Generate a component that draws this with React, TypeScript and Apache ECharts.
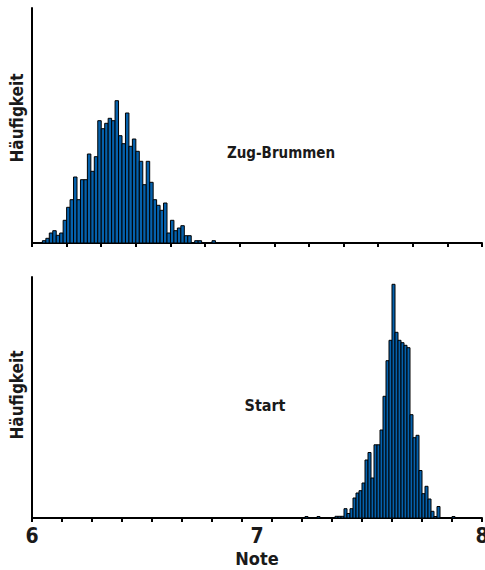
import React, { useEffect, useRef } from "react";
import * as echarts from "echarts";

// Axis range of the note scale
const X_MIN = 6;
const X_MAX = 8;

// Top panel: "Zug-Brummen" — 130 bins over 6..8, first non-empty bin index 3
const topBinCount = 130;
const topFirstBin = 3;
const topCounts = [
  2.3, 4.7, 10, 12.3, 7.7, 10, 22.7, 35.7, 43.3, 66, 43.3, 63.3, 63.3, 89, 71.7,
  86.3, 122.3, 114.3, 119.7, 124.7, 122.3, 142.3, 107.3, 99.3, 130, 96.7, 104,
  91.7, 81.7, 58.3, 81.7, 60.7, 43.3, 37.7, 32.7, 40, 10, 22.7, 12.3, 15, 17.3,
  7.3, 7.3, 0, 2.3, 2.3, 0, 0, 0, 2.3,
];
const topYMax = 235;
const topTickCount = 13;

// Bottom panel: "Start" — 150 bins over 6..8, first non-empty bin index 91
const bottomBinCount = 150;
const bottomFirstBin = 91;
const bottomCounts = [
  1.5, 0, 0, 0, 1.5, 0, 0, 0, 0, 0, 1.7, 1.7, 1.7, 9.3, 4.5, 9.3, 20, 25, 27.3,
  35, 58, 65.5, 40, 73.2, 73.2, 88, 121.7, 157.3, 177.7, 233.7, 185.7, 177.7,
  175.3, 172.7, 170.3, 103.3, 80.3, 82.7, 47.5, 24.3, 31.7, 19, 6.7, 1.5, 11.5,
  0, 0, 0, 0, 1.5,
];
const bottomYMax = 241;
const bottomTickCount = 15;

const labelTicks = [6, 7, 8];
const xAxisTitle = "Note";
const yAxisTitle = "Häufigkeit";
const topLabel = "Zug-Brummen";
const bottomLabel = "Start";

const FONT = '"DejaVu Sans Condensed", "Liberation Sans", Arial, sans-serif';
const BAR_COLOR = "#0561AC";
const INK = "#1a1a1a";

function buildBins(counts: number[], firstBin: number, binCount: number) {
  const w = (X_MAX - X_MIN) / binCount;
  const out: number[][] = [];
  counts.forEach((c, i) => {
    if (c > 0) {
      const b = firstBin + i;
      out.push([X_MIN + b * w, X_MIN + (b + 1) * w, c]);
    }
  });
  return out;
}

const renderBar = (params: any, api: any) => {
  const p0 = api.coord([api.value(0), api.value(2)]);
  const p1 = api.coord([api.value(1), 0]);
  return {
    type: "rect",
    shape: { x: p0[0], y: p0[1], width: p1[0] - p0[0], height: p1[1] - p0[1] },
    style: { fill: BAR_COLOR, stroke: "#000", lineWidth: 1 },
  };
};

export default function App() {
  const ref = useRef<HTMLDivElement>(null);

  useEffect(() => {
    if (!ref.current) return;
    const chart = echarts.init(ref.current, null, { renderer: "svg" });

    const axisLine = { show: true, lineStyle: { color: "#000", width: 2 } };
    const tick = { show: true, inside: false, length: 4, lineStyle: { color: "#000", width: 2 } };

    const option: any = {
      animation: false,
      backgroundColor: "#fff",
      grid: [
        { left: 32, top: 8, width: 450, height: 235, containLabel: false, outerBoundsMode: "none" },
        { left: 32, top: 277, width: 450, height: 241, containLabel: false, outerBoundsMode: "none" },
      ],
      xAxis: [
        {
          type: "value",
          gridIndex: 0,
          min: X_MIN,
          max: X_MAX,
          interval: (X_MAX - X_MIN) / topTickCount,
          axisLine,
          axisTick: tick,
          axisLabel: { show: false },
          splitLine: { show: false },
        },
        {
          type: "value",
          gridIndex: 1,
          min: X_MIN,
          max: X_MAX,
          interval: (X_MAX - X_MIN) / bottomTickCount,
          axisLine,
          axisTick: tick,
          axisLabel: { show: false },
          splitLine: { show: false },
        },
        {
          type: "value",
          gridIndex: 1,
          position: "bottom",
          min: X_MIN,
          max: X_MAX,
          interval: 1,
          axisLine: { show: false },
          axisTick: { show: false },
          splitLine: { show: false },
          axisLabel: {
            show: true,
            margin: 7,
            color: INK,
            fontFamily: FONT,
            fontWeight: "bold",
            fontSize: 21,
            hideOverlap: false,
            formatter: (v: number) => (labelTicks.includes(Math.round(v)) ? String(Math.round(v)) : ""),
          },
          name: xAxisTitle,
          nameLocation: "middle",
          nameGap: 31,
          nameTextStyle: { color: INK, fontFamily: FONT, fontWeight: "bold", fontSize: 18 },
        },
      ],
      yAxis: [
        {
          type: "value",
          gridIndex: 0,
          min: 0,
          max: topYMax,
          axisLine,
          axisTick: { show: false },
          axisLabel: { show: false },
          splitLine: { show: false },
        },
        {
          type: "value",
          gridIndex: 1,
          min: 0,
          max: bottomYMax,
          axisLine,
          axisTick: { show: false },
          axisLabel: { show: false },
          splitLine: { show: false },
        },
      ],
      series: [
        {
          type: "custom",
          xAxisIndex: 0,
          yAxisIndex: 0,
          encode: { x: [0, 1], y: 2 },
          data: buildBins(topCounts, topFirstBin, topBinCount),
          renderItem: renderBar,
        },
        {
          type: "custom",
          xAxisIndex: 1,
          yAxisIndex: 1,
          encode: { x: [0, 1], y: 2 },
          data: buildBins(bottomCounts, bottomFirstBin, bottomBinCount),
          renderItem: renderBar,
        },
      ],
      graphic: [
        {
          type: "text",
          x: 17,
          y: 118,
          rotation: Math.PI / 2,
          style: {
            text: yAxisTitle,
            fill: INK,
            font: `bold 17px ${FONT}`,
            textAlign: "center",
            textVerticalAlign: "middle",
          },
        },
        {
          type: "text",
          x: 17,
          y: 395,
          rotation: Math.PI / 2,
          style: {
            text: yAxisTitle,
            fill: INK,
            font: `bold 17px ${FONT}`,
            textAlign: "center",
            textVerticalAlign: "middle",
          },
        },
        {
          type: "text",
          x: 281,
          y: 153,
          style: {
            text: topLabel,
            fill: INK,
            font: `bold 15px ${FONT}`,
            textAlign: "center",
            textVerticalAlign: "middle",
          },
        },
        {
          type: "text",
          x: 265,
          y: 405,
          style: {
            text: bottomLabel,
            fill: INK,
            font: `bold 16px ${FONT}`,
            textAlign: "center",
            textVerticalAlign: "middle",
          },
        },
      ],
    };

    chart.setOption(option);
    return () => chart.dispose();
  }, []);

  return <div ref={ref} style={{ width: 485, height: 570, position: "absolute", left: 0, top: 0 }} />;
}
